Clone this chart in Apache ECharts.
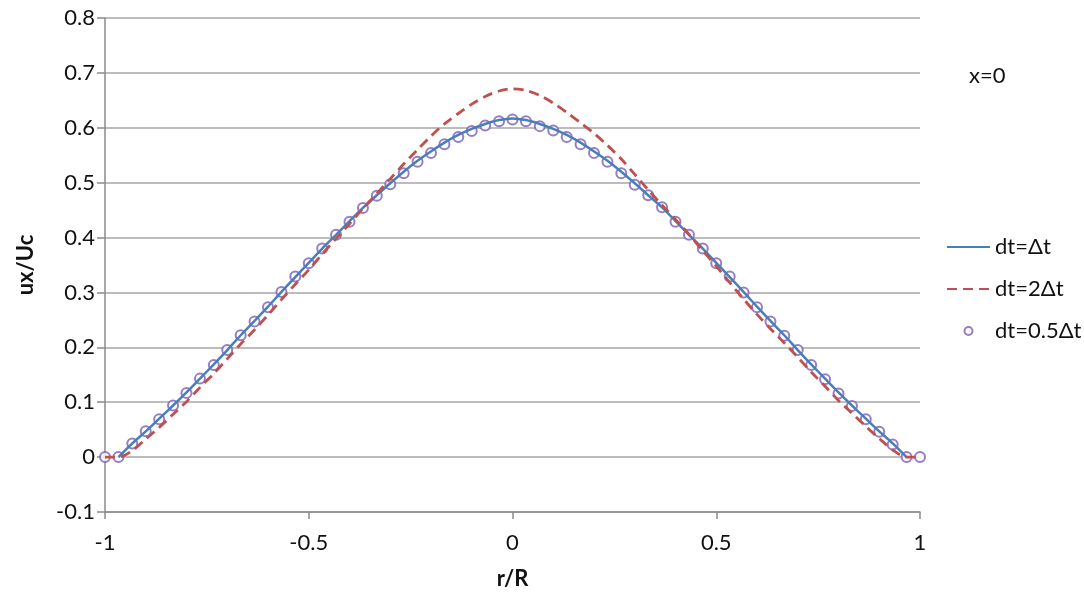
<!DOCTYPE html>
<html>
<head>
<meta charset="utf-8">
<script src="https://cdn.jsdelivr.net/npm/echarts@6/dist/echarts.min.js"></script>
<style>
html,body{margin:0;padding:0;background:#fff;}
#main{width:1084px;height:597px;}
</style>
</head>
<body>
<div id="main"></div>
<script>
// r/R positions (61 points, step 1/30)
let rPos=[-1,-0.967,-0.933,-0.9,-0.867,-0.833,-0.8,-0.767,-0.733,-0.7,-0.667,-0.633,-0.6,-0.567,-0.533,-0.5,-0.467,-0.433,-0.4,-0.367,-0.333,-0.3,-0.267,-0.233,-0.2,-0.167,-0.133,-0.1,-0.067,-0.033,
	0,0.033,0.067,0.1,0.133,0.167,0.2,0.233,0.267,0.3,0.333,0.367,0.4,0.433,0.467,0.5,0.533,0.567,0.6,0.633,0.667,0.7,0.733,0.767,0.8,0.833,0.867,0.9,0.933,0.967,1];
// dt=Δt
let oneDt=[null,0,0.025,0.047,0.070,0.094,0.118,0.143,0.169,0.195,0.222,0.248,0.274,0.301,0.328,0.354,0.380,0.405,0.430,0.454,0.477,0.499,0.520,0.540,0.557,0.573,0.587,0.598,0.607,0.614,
	0.617,0.614,0.607,0.598,0.587,0.573,0.557,0.540,0.520,0.499,0.477,0.455,0.430,0.405,0.380,0.354,0.328,0.301,0.274,0.248,0.222,0.195,0.169,0.143,0.118,0.094,0.070,0.047,0.025,0,null];
// dt=2Δt
let twoDt=[0,0,0.012,0.033,0.054,0.078,0.101,0.127,0.152,0.179,0.206,0.232,0.259,0.287,0.315,0.341,0.370,0.398,0.425,0.453,0.480,0.507,0.534,0.560,0.585,0.607,0.626,0.643,0.657,0.667,
	0.671,0.668,0.659,0.645,0.628,0.609,0.590,0.568,0.543,0.515,0.487,0.459,0.433,0.406,0.376,0.348,0.318,0.288,0.260,0.234,0.208,0.182,0.155,0.129,0.103,0.080,0.056,0.034,0.013,0,0];
// dt=0.5Δt
let halfDt=[0,0,0.025,0.047,0.069,0.094,0.117,0.143,0.168,0.195,0.222,0.247,0.273,0.301,0.329,0.353,0.380,0.405,0.429,0.454,0.476,0.497,0.517,0.538,0.554,0.570,0.583,0.594,0.604,0.612,
	0.615,0.612,0.603,0.595,0.583,0.570,0.554,0.538,0.517,0.496,0.477,0.455,0.429,0.405,0.380,0.353,0.329,0.300,0.273,0.247,0.221,0.195,0.168,0.142,0.116,0.093,0.069,0.046,0.023,0,0];
let names=['dt=Δt','dt=2Δt','dt=0.5Δt'];

function pairs(ys){
	return rPos.map(function(r,i){return [r,ys[i]];});
}

let font='Lato, "Open Sans", sans-serif';
let myChart=echarts.init(document.getElementById('main'));
let option={
	animation:false,
	title:{
		text:'x=0',left:964,top:60,
		textStyle:{fontFamily:font,fontSize:22,fontWeight:'normal',color:'#111'}
	},
	legend:{
		orient:'vertical',left:941,top:231,
		itemWidth:43,itemHeight:8,itemGap:20,
		textStyle:{fontFamily:font,fontSize:22,color:'#111'},
		data:[
			{name:names[0],itemStyle:{opacity:0}},
			{name:names[1],itemStyle:{opacity:0}},
			{name:names[2],icon:'emptyCircle'}
		]
	},
	grid:{left:105,right:164,top:18,bottom:85},
	xAxis:{
		type:'value',min:-1,max:1,interval:0.5,
		name:'r/R',nameLocation:'middle',nameGap:56,
		nameTextStyle:{fontFamily:font,fontSize:22,fontWeight:'bold',color:'#111'},
		axisLine:{onZero:false,lineStyle:{color:'#8a8a8a',width:1.5}},
		axisTick:{show:true,length:7,lineStyle:{color:'#8a8a8a',width:1.5}},
		axisLabel:{margin:20,fontFamily:font,fontSize:22,color:'#111'},
		splitLine:{show:false}
	},
	yAxis:{
		type:'value',min:-0.1,max:0.8,interval:0.1,
		name:'ux/Uc',nameLocation:'middle',nameGap:68,
		nameTextStyle:{fontFamily:font,fontSize:22,fontWeight:'bold',color:'#111'},
		axisLine:{show:true,onZero:false,lineStyle:{color:'#8a8a8a',width:1.5}},
		axisTick:{show:true,length:8,lineStyle:{color:'#8a8a8a',width:1.5}},
		axisLabel:{
			margin:10,fontFamily:font,fontSize:22,color:'#111',
			formatter:function(v){return Math.abs(v)<1e-9?'0':v.toFixed(1);}
		},
		splitLine:{show:true,lineStyle:{color:'#a6a6a6',width:1.5}}
	},
	series:[
		{
			name:names[0],type:'line',smooth:0.3,showSymbol:false,symbol:'none',
			lineStyle:{color:'#4a7ebb',width:2.5},itemStyle:{color:'#4a7ebb'},
			data:pairs(oneDt)
		},
		{
			name:names[1],type:'line',smooth:0.3,showSymbol:false,symbol:'none',
			lineStyle:{color:'#c0504d',width:2.8,type:[10,6]},itemStyle:{color:'#c0504d'},
			data:pairs(twoDt)
		},
		{
			name:names[2],type:'scatter',symbol:'emptyCircle',symbolSize:10,
			itemStyle:{color:'#7c5cb8',borderColor:'#7c5cb8',borderWidth:1.5},
			data:pairs(halfDt)
		}
	]
};
myChart.setOption(option);
</script>
</body>
</html>
